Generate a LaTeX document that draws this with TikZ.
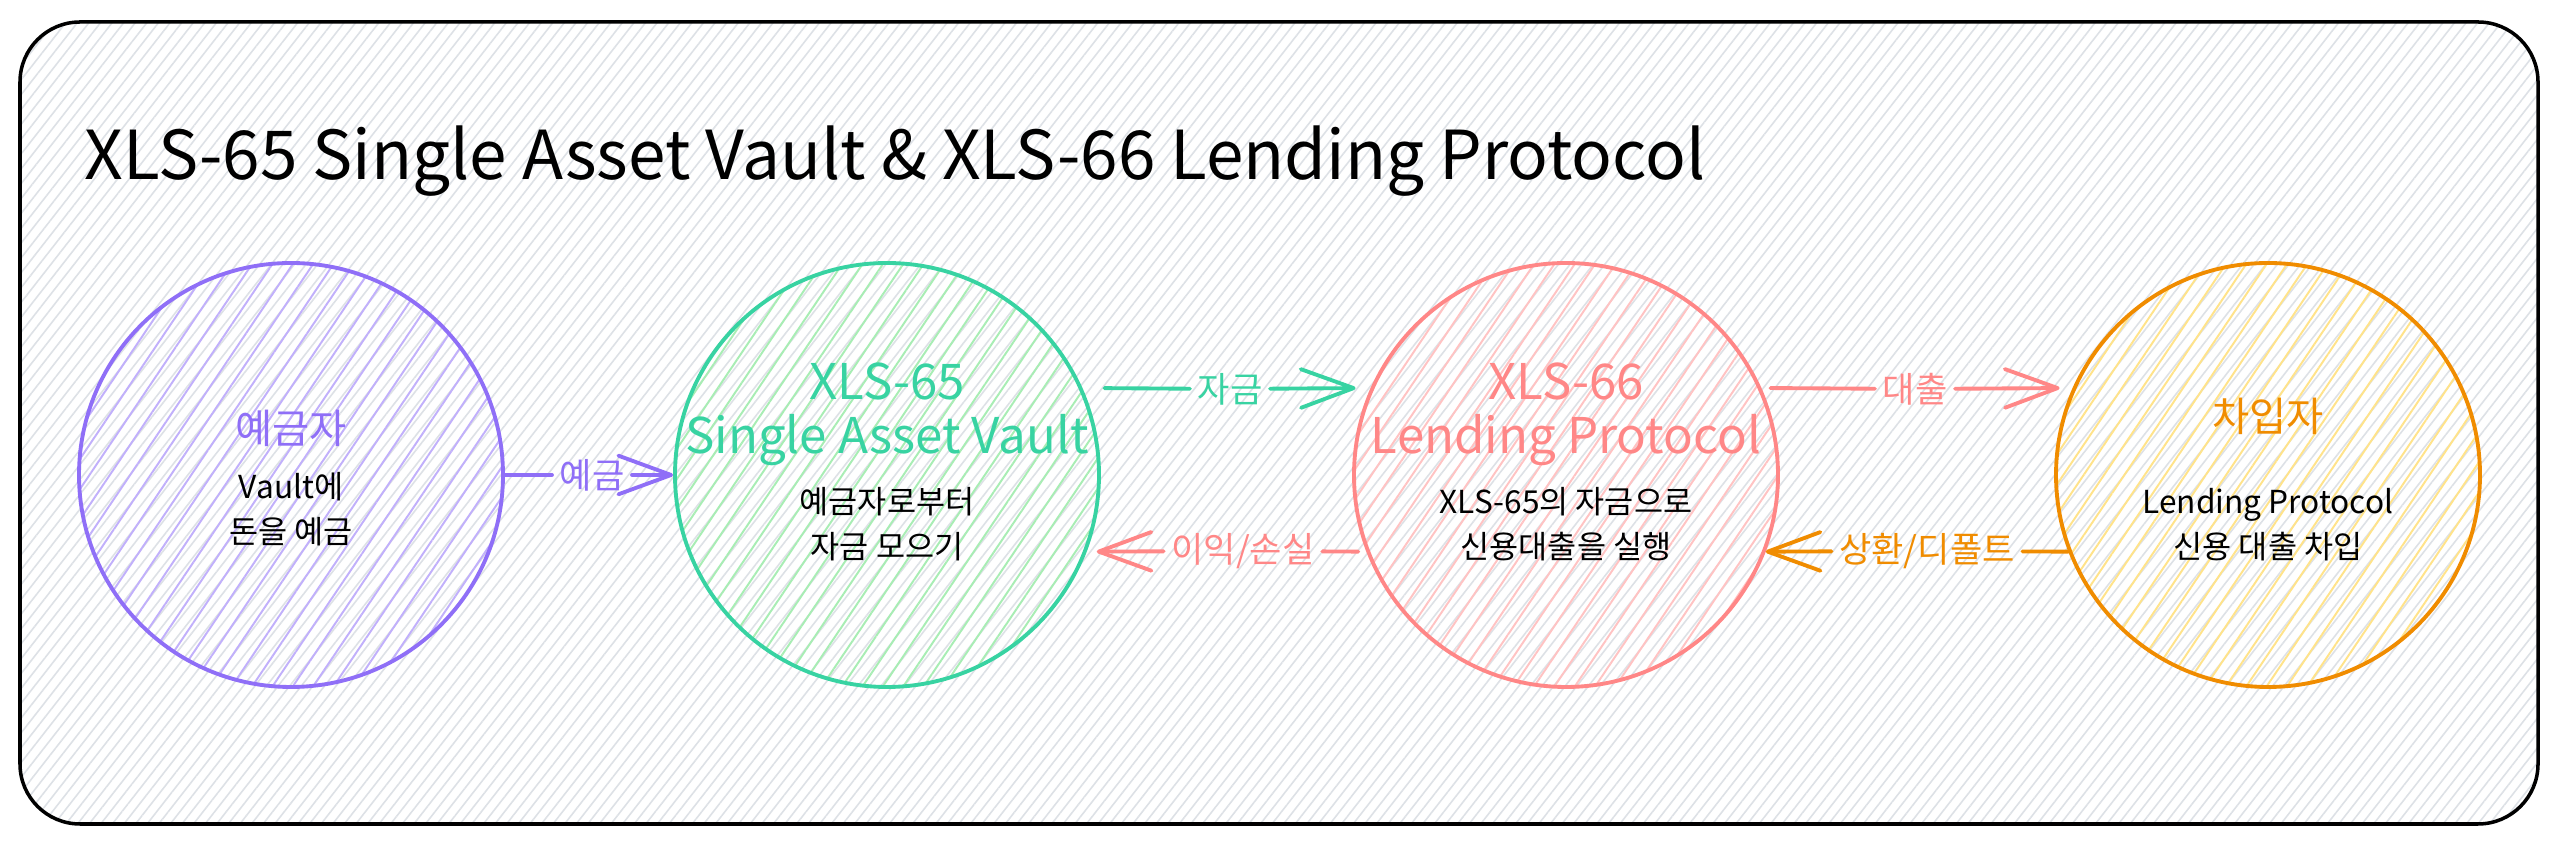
\documentclass[tikz,border=0pt]{standalone}
\usepackage{fontspec}
\setmainfont{Noto Sans CJK KR}
\usepackage{tikz}
\usetikzlibrary{arrows.meta,positioning,calc,patterns.meta}
\definecolor{deposit}{HTML}{8F6FF7}
\definecolor{vault}{HTML}{38D3A2}
\definecolor{vaulthatch}{HTML}{A8EDB4}
\definecolor{lend}{HTML}{FF8787}
\definecolor{borrow}{HTML}{F08C00}
\definecolor{borrowhatch}{HTML}{FFE38A}
\definecolor{hatch}{HTML}{DDE1E6}

\tikzset{
  outerframe/.style={draw=black, line width=1pt, rounded corners=0.6cm,
    pattern={Lines[angle=52,distance=2.6pt,line width=0.45pt]}, pattern color=hatch},
  party/.style n args={2}{circle, draw=#1, line width=1.1pt, minimum size=4.24cm, inner sep=0pt,
    pattern={Lines[angle=56,distance=4.8pt,line width=0.55pt]}, pattern color=#2},
  partyhead/.style={font=\fontsize{14}{15.3}\selectfont, align=center, inner sep=0pt},
  krhead/.style={font=\fontsize{11.5}{14}\selectfont, align=center, inner sep=0pt},
  partybody/.style={font=\fontsize{9}{12.8}\selectfont, align=center, inner sep=0pt},
  flowlabel/.style={font=\fontsize{10}{12}\selectfont, text=#1, inner sep=2pt},
  flow/.style={draw=#1, line width=1.1pt, line cap=round},
  flowhead/.style={-{Straight Barb[length=15pt,width=11pt,round]}}
}

\begin{document}
\begin{tikzpicture}
  \useasboundingbox (0,0) rectangle (25.6,8.49);
  \fill[white] (0,0) rectangle (25.6,8.49);

  % Frame
  \draw[outerframe] (0.2,0.25) rectangle (25.38,8.27);

  % Title
  \node[anchor=base west, font=\fontsize{19.2}{23}\selectfont] (title) at (0.72,6.69)
    {XLS-65 Single Asset Vault \& XLS-66 Lending Protocol};

  % Circles
  \node[party={deposit}{deposit!55}] (depositor) at (2.91,3.74) {};
  \node[party={vault}{vaulthatch}] (vault) at (8.87,3.74) {};
  \node[party={lend}{lend!50}] (lending) at (15.66,3.74) {};
  \node[party={borrow}{borrowhatch}] (borrower) at (22.68,3.74) {};

  % Texts in circles
  \node[krhead, text=deposit] (depositorhead) at ($(depositor)+(0,0.47)$) {예금자};
  \node[partybody] (depositorbody) at ($(depositor)+(0,-0.34)$) {Vault에\\돈을 예금};

  \node[partyhead, text=vault] (vaulthead) at ($(vault)+(0,0.61)$) {XLS-65\\Single Asset Vault};
  \node[partybody] (vaultbody) at ($(vault)+(0,-0.49)$) {예금자로부터\\자금 모으기};

  \node[partyhead, text=lend] (lendinghead) at ($(lending)+(0,0.61)$) {XLS-66\\Lending Protocol};
  \node[partybody] (lendingbody) at ($(lending)+(0,-0.49)$) {XLS-65의 자금으로\\신용대출을 실행};

  \node[krhead, text=borrow] (borrowerhead) at ($(borrower)+(0,0.59)$) {차입자};
  \node[partybody] (borrowerbody) at ($(borrower)+(0,-0.5)$) {Lending Protocol\\신용 대출 차입};

  % Flow labels
  \node[flowlabel=deposit] (depositlbl) at (5.92,3.74) {예금};
  \node[flowlabel=vault] (fundlbl) at (12.30,4.60) {자금};
  \node[flowlabel=lend] (loanlbl) at (19.15,4.60) {대출};
  \node[flowlabel=lend] (profitlbl) at (12.43,2.98) {이익/손실};
  \node[flowlabel=borrow] (repaylbl) at (19.27,2.98) {상환/디폴트};

  % Flows
  \draw[flow=deposit] (depositor) -- (depositlbl);
  \draw[flow=deposit, flowhead] (depositlbl) -- (vault);

  \draw[flow=vault, shorten <=0.22cm] (vault.24) -- (fundlbl);
  \draw[flow=vault, flowhead, shorten >=0.15cm] (fundlbl) -- (lending.156);

  \draw[flow=lend, shorten <=0.09cm] (lending.24) -- (loanlbl);
  \draw[flow=lend, flowhead, shorten >=0.13cm] (loanlbl) -- (borrower.156);

  \draw[flow=lend, shorten <=0.08cm] (lending.201) -- (profitlbl);
  \draw[flow=lend, flowhead, shorten >=0.1cm] (profitlbl) -- (vault.339);

  \draw[flow=borrow] (borrower.201) -- (repaylbl);
  \draw[flow=borrow, flowhead] (repaylbl) -- (lending.339);
\end{tikzpicture}
\end{document}
